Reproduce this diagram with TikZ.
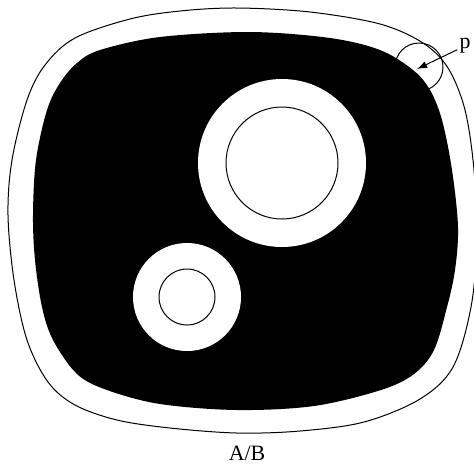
\documentclass[tikz,border=0pt,11pt]{standalone}
\usepackage{fontspec}
\setmainfont{Liberation Serif}
\usetikzlibrary{arrows.meta,positioning}

\begin{document}
\begin{tikzpicture}[
    x=0.5pt, y=-0.5pt,
    boundary/.style={line width=0.5pt, draw=black},
    body/.style={fill=black},
    hole/.style={fill=white},
    rim/.style={line width=0.5pt, draw=black},
    pointer/.style={line width=0.5pt, -{Latex[length=5pt,width=3.6pt]}},
    lbl/.style={font=\normalsize, inner sep=1pt}
]
    \useasboundingbox (0,0) rectangle (474,467);

    % --- Outer contour ---
    \draw[boundary] plot[smooth cycle, tension=0.55] coordinates {
        (237,8) (310,12) (380,24) (423,43) (448,68) (465,110) (474,170)
        (477,240) (471,307) (453,367) (420,399) (364,422) (300,431)
        (237,433) (170,428) (117,420) (75,405) (48,382) (27,340) (14,280)
        (8,215) (12,160) (27,100) (45,65) (75,38) (130,19) (180,11)};

    % --- Small circle at p ---
    \draw[rim] (419,67) circle[radius=24];

    % --- Black body ---
    \fill[body] plot[smooth cycle, tension=0.55] coordinates {
        (250,32) (330,38) (380,50) (413,70) (430,90) (442,120) (452,170)
        (458,227) (455,270) (447,307) (434,350) (414,374) (381,390)
        (314,406) (237,410) (160,404) (107,390) (77,374) (53,340) (42,307)
        (35,260) (33,215) (36,160) (47,110) (60,83) (77,63) (100,50) (160,37)};

    % --- Holes ---
    \foreach \cx/\cy/\ro/\ri in {282/163/84/56, 187/297/54/28} {
        \fill[hole] (\cx,\cy) circle[radius=\ro];
        \draw[rim] (\cx,\cy) circle[radius=\ri];
    }

    % --- Labels ---
    \node[lbl] (plbl) at (465,46) {p};
    \coordinate (ptip) at (417,69);
    \draw[pointer] (plbl) -- (ptip);
    \node[lbl] (ablbl) at (247,453) {A/B};
\end{tikzpicture}
\end{document}
